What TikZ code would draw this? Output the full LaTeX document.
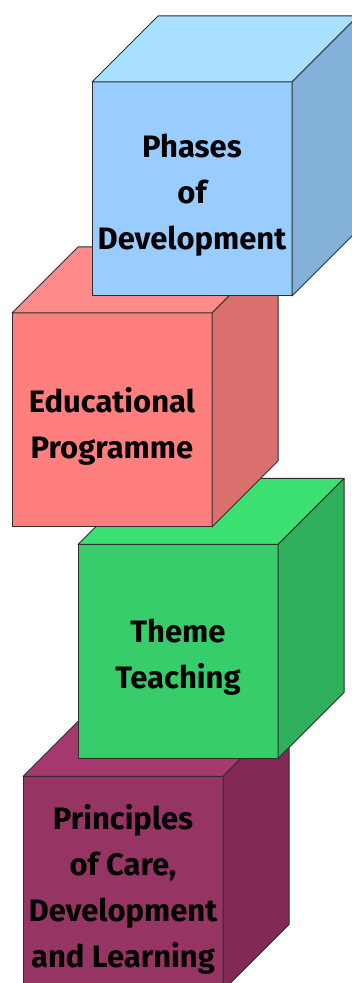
\documentclass[tikz,border=0pt]{standalone}
\usepackage{fontspec}
\setmainfont{Fira Sans}
\definecolor{edge}{HTML}{2E2E2E}
\definecolor{bluefront}{HTML}{99CCFF}
\definecolor{bluetop}{HTML}{A9DFFF}
\definecolor{blueside}{HTML}{84B1DA}
\definecolor{redfront}{HTML}{FF7F7F}
\definecolor{redtop}{HTML}{FF8A8A}
\definecolor{redside}{HTML}{DA706D}
\definecolor{greenfront}{HTML}{36CD6A}
\definecolor{greentop}{HTML}{3AE072}
\definecolor{greenside}{HTML}{2FB05A}
\definecolor{plumfront}{HTML}{963464}
\definecolor{plumtop}{HTML}{A63A6E}
\definecolor{plumside}{HTML}{822A55}

\begin{document}
\begin{tikzpicture}[x=1pt, y=1pt,
      every node/.style={font=\fontsize{31}{46}\selectfont\bfseries},
      cubefront/.style={draw=edge, line width=1pt, minimum width=200pt,
                        minimum height=214pt, inner sep=0pt, outer sep=0pt},
      cubetext/.style={align=center, text=black, yshift=-6pt},
      cubeside/.style={draw=edge, line width=1pt, line join=round}
    ]
      \clip (0,0) rectangle (352,983);

      % bottom block
      \node[cubefront, fill=plumfront] (care) at (123,99.5) {};
      \node[cubetext] (care-txt) at (care.center)
        {Principles\\of Care,\\Development\\and Learning};
      \draw[cubeside, fill=plumtop] (care.north west) -- ++(66,66) -- ++(200,0)
        -- (care.north east) -- cycle;
      \draw[cubeside, fill=plumside] (care.north east) -- ++(66,66) -- ++(0,-214)
        -- (care.south east) -- cycle;

      % second block
      \node[cubefront, fill=greenfront] (theme) at (178,331.5) {};
      \node[cubetext] (theme-txt) at (theme.center) {Theme\\Teaching};
      \draw[cubeside, fill=greentop] (theme.north west) -- ++(66,66) -- ++(200,0)
        -- (theme.north east) -- cycle;
      \draw[cubeside, fill=greenside] (theme.north east) -- ++(66,66) -- ++(0,-214)
        -- (theme.south east) -- cycle;

      % third block
      \node[cubefront, fill=redfront] (prog) at (112,563) {};
      \node[cubetext] (prog-txt) at (prog.center) {Educational\\Programme};
      \draw[cubeside, fill=redtop] (prog.north west) -- ++(66,66) -- ++(200,0)
        -- (prog.north east) -- cycle;
      \draw[cubeside, fill=redside] (prog.north east) -- ++(66,66) -- ++(0,-214)
        -- (prog.south east) -- cycle;

      % top block
      \node[cubefront, fill=bluefront] (phases) at (192,794) {};
      \node[cubetext] (phases-txt) at (phases.center) {Phases\\of\\Development};
      \draw[cubeside, fill=bluetop] (phases.north west) -- ++(66,66) -- ++(200,0)
        -- (phases.north east) -- cycle;
      \draw[cubeside, fill=blueside] (phases.north east) -- ++(66,66) -- ++(0,-214)
        -- (phases.south east) -- cycle;
    \end{tikzpicture}
\end{document}
